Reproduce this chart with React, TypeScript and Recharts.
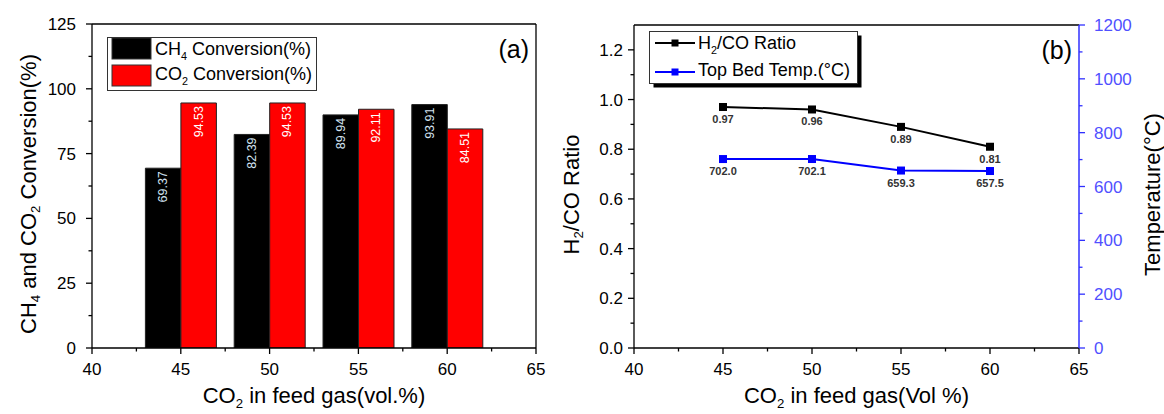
import React from 'react';
import { BarChart, Bar, XAxis, YAxis, LineChart, Line, LabelList, Legend, ReferenceLine } from 'recharts';

const FONT = '"Liberation Sans", Arial, Helvetica, sans-serif';

// ---------- data ----------
const co2Feed = [45, 50, 55, 60];
const ch4Conversion = [69.37, 82.39, 89.94, 93.91];
const co2Conversion = [94.53, 94.53, 92.11, 84.51];
const h2coRatio = [0.97, 0.96, 0.89, 0.81];
const topBedTemp = [702.0, 702.1, 659.3, 657.5];

const xTicks = [40, 42.5, 45, 47.5, 50, 52.5, 55, 57.5, 60, 62.5, 65];
const xMajorTicks = [40, 45, 50, 55, 60, 65];
const convTicks = [0, 12.5, 25, 37.5, 50, 62.5, 75, 87.5, 100, 112.5, 125];
const convMajorTicks = [0, 25, 50, 75, 100, 125];
const ratioTicks = [0, 0.1, 0.2, 0.3, 0.4, 0.5, 0.6, 0.7, 0.8, 0.9, 1.0, 1.1, 1.2];
const ratioMajorTicks = [0, 0.2, 0.4, 0.6, 0.8, 1.0, 1.2];
const tempTicks = [0, 100, 200, 300, 400, 500, 600, 700, 800, 900, 1000, 1100, 1200];
const tempMajorTicks = [0, 200, 400, 600, 800, 1000, 1200];

const barSeriesNames = ['CH_4 Conversion(%)', 'CO_2 Conversion(%)'];
const lineSeriesNames = ['H_2/CO Ratio', 'Top Bed Temp.(\u00B0C)'];
const leftYTitle = 'CH_4 and CO_2 Conversion(%)';
const leftXTitle = 'CO_2 in feed gas(vol.%)';
const rightYTitle = 'H_2/CO Ratio';
const rightY2Title = 'Temperature(\u00B0C)';
const rightXTitle = 'CO_2 in feed gas(Vol %)';

const barData = co2Feed.map((x, i) => ({ x, ch4: ch4Conversion[i], co2: co2Conversion[i] }));
const lineData = co2Feed.map((x, i) => ({ x, ratio: h2coRatio[i], temp: topBedTemp[i] }));

// ---------- helpers ----------
function rich(s: string, fs: number, subShift = 0.3) {
  const nodes: any[] = [];
  let buf = '';
  let shift = 0;
  let k = 0;
  const flush = () => {
    if (buf) {
      nodes.push(
        <tspan key={k++} dy={shift ? -shift : undefined} fontSize={fs}>
          {buf}
        </tspan>
      );
      shift = 0;
      buf = '';
    }
  };
  for (let i = 0; i < s.length; i++) {
    if (s[i] === '_' && i + 1 < s.length) {
      flush();
      const d = fs * subShift;
      nodes.push(
        <tspan key={k++} dy={d} fontSize={fs * 0.6}>
          {s[i + 1]}
        </tspan>
      );
      shift = d;
      i++;
    } else {
      buf += s[i];
    }
  }
  flush();
  return nodes;
}

const isMajor = (majors: number[], v: number) => majors.some((m) => Math.abs(m - v) < 1e-9);

const makeXTick = (majors: number[]) => (props: any) => {
  const { x, y, payload } = props;
  const v = payload.value;
  const major = isMajor(majors, v);
  return (
    <g>
      <line x1={x} x2={x} y1={y} y2={y + (major ? 6 : 3.5)} stroke="#000" strokeWidth={1.3} />
      {major && (
        <text x={x} y={y + 27} textAnchor="middle" fontSize={17} fontFamily={FONT} fill="#000">
          {v}
        </text>
      )}
    </g>
  );
};

const makeYTick =
  (majors: number[], side: 'left' | 'right', gap: number, color: string, textColor: string, fmt: (v: number) => string) =>
  (props: any) => {
    const { x, y, payload } = props;
    const v = payload.value;
    const major = isMajor(majors, v);
    const s = side === 'left' ? -1 : 1;
    return (
      <g>
        <line x1={x} x2={x + s * (major ? 6 : 3.5)} y1={y} y2={y} stroke={color} strokeWidth={1.3} />
        {major && (
          <text
            x={x + s * gap}
            y={y + 6}
            textAnchor={side === 'left' ? 'end' : 'start'}
            fontSize={17}
            fontFamily={FONT}
            fill={textColor}
          >
            {fmt(v)}
          </text>
        )}
      </g>
    );
  };

const barLabel = (color: string) => (props: any) => {
  const { x, y, width, value } = props;
  const cx = x + width / 2;
  const ty = y + 3;
  return (
    <text
      x={cx}
      y={ty}
      transform={`rotate(-90 ${cx} ${ty})`}
      textAnchor="end"
      dominantBaseline="central"
      fontSize={12.5}
      fontFamily={FONT}
      fill={color}
    >
      {Number(value).toFixed(2)}
    </text>
  );
};

const pointLabel = (digits: number) => (props: any) => {
  const { x, y, value } = props;
  return (
    <text x={x} y={y + 16} textAnchor="middle" fontSize={11} fontFamily={FONT} fill="#333" fontWeight="bold">
      {Number(value).toFixed(digits)}
    </text>
  );
};

const squareDot = (color: string) => (props: any) => {
  const { cx, cy, index } = props;
  return <rect key={`d${index}`} x={cx - 4} y={cy - 4} width={8} height={8} fill={color} />;
};

const BarLegend = (props: any) => {
  const payload = props.payload || [];
  return (
    <svg width={212} height={56} style={{ display: 'block' }}>
      <rect x={0.5} y={0.5} width={209} height={53} fill="#fff" stroke="#333" strokeWidth={1} />
      {payload.map((p: any, i: number) => (
        <g key={i}>
          <rect x={5} y={1 + i * 27} width={39} height={21} fill={p.color} stroke="#333" strokeWidth={1} />
          <text x={48} y={18 + i * 25} fontSize={18} fontFamily={FONT} fill="#000">
            {rich(String(p.value), 18)}
          </text>
        </g>
      ))}
    </svg>
  );
};

const LineLegend = (props: any) => {
  const payload = props.payload || [];
  return (
    <svg width={216} height={58} style={{ display: 'block' }}>
      <rect x={4.5} y={4.5} width={208} height={52} fill="#000" />
      <rect x={0.5} y={0.5} width={208} height={52} fill="#fff" stroke="#333" strokeWidth={1} />
      {payload.map((p: any, i: number) => (
        <g key={i}>
          <line x1={6} x2={46} y1={12 + i * 29} y2={12 + i * 29} stroke={p.color} strokeWidth={2} />
          <rect x={22.5} y={8.5 + i * 29} width={7} height={7} fill={p.color} />
          <text x={49} y={18 + i * 27} fontSize={18} fontFamily={FONT} fill="#000">
            {rich(String(p.value), 18)}
          </text>
        </g>
      ))}
    </svg>
  );
};

const vTitle = (title: string, dx: number, color: string) => (props: any) => {
  const vb = props.viewBox || {};
  const cx = vb.x + dx;
  const cy = vb.y + vb.height / 2 + 8;
  return (
    <text
      x={cx}
      y={cy}
      transform={`rotate(-90 ${cx} ${cy})`}
      textAnchor="middle"
      dominantBaseline="central"
      fontSize={22}
      fontFamily={FONT}
      fill={color}
    >
      {rich(title, 22)}
    </text>
  );
};

const hTitle = (title: string) => (props: any) => {
  const vb = props.viewBox || {};
  return (
    <text x={vb.x + vb.width / 2} y={vb.y + 55} textAnchor="middle" fontSize={22} fontFamily={FONT} fill="#000">
      {rich(title, 22, 0.22)}
    </text>
  );
};

const panelTag = (tag: string) => (props: any) => {
  const vb = props.viewBox || {};
  return (
    <text x={vb.x + vb.width - 7} y={vb.y + 34} textAnchor="end" fontSize={25} fontFamily={FONT} fill="#000">
      {tag}
    </text>
  );
};

export default function App() {
  return (
    <div style={{ position: 'absolute', left: 0, top: 0, width: 1164, height: 414, background: '#fff', overflow: 'hidden' }}>
      <div style={{ position: 'absolute', left: 0, top: 0 }}>
        <BarChart
          width={550}
          height={414}
          data={barData}
          margin={{ top: 24, right: 14, bottom: 26, left: 32 }}
          barGap={0}
          barCategoryGap={0}
          barSize={35.5}
        >
          <XAxis
            dataKey="x"
            type="number"
            domain={[40, 65]}
            allowDataOverflow
            ticks={xTicks}
            interval={0}
            tickSize={0}
            tickMargin={0}
            tickLine={false}
            tick={makeXTick(xMajorTicks)}
            axisLine={{ stroke: '#000', strokeWidth: 1.3 }}
            height={40}
            label={{ content: hTitle(leftXTitle) }}
          />
          <YAxis
            type="number"
            domain={[0, 125]}
            allowDataOverflow
            ticks={convTicks}
            interval={0}
            tickSize={0}
            tickMargin={0}
            tickLine={false}
            tick={makeYTick(convMajorTicks, 'left', 16, '#000', '#000', (v) => String(v))}
            axisLine={{ stroke: '#000', strokeWidth: 1.3 }}
            width={60}
            label={{ content: vTitle(leftYTitle, -4, '#000') }}
          />
          <ReferenceLine y={125} stroke="#000" strokeWidth={1.3} label={{ content: panelTag('(a)') }} />
          <ReferenceLine x={65} stroke="#000" strokeWidth={1.3} />
          <Bar dataKey="ch4" name={barSeriesNames[0]} fill="#000" stroke="#222" strokeWidth={1} isAnimationActive={false}>
            <LabelList dataKey="ch4" content={barLabel('#d3e3f2')} />
          </Bar>
          <Bar dataKey="co2" name={barSeriesNames[1]} fill="#ff0000" stroke="#222" strokeWidth={1} isAnimationActive={false}>
            <LabelList dataKey="co2" content={barLabel('#ffffff')} />
          </Bar>
          <Legend
            layout="vertical"
            align="center"
            verticalAlign="middle"
            content={BarLegend}
            wrapperStyle={{ left: 107, top: 37, width: 212, height: 56 }}
          />
        </BarChart>
      </div>
      <div style={{ position: 'absolute', left: 550, top: 0 }}>
        <LineChart width={614} height={414} data={lineData} margin={{ top: 25, right: 25, bottom: 26, left: 34 }}>
          <XAxis
            dataKey="x"
            type="number"
            domain={[40, 65]}
            allowDataOverflow
            ticks={xTicks}
            interval={0}
            tickSize={0}
            tickMargin={0}
            tickLine={false}
            tick={makeXTick(xMajorTicks)}
            axisLine={{ stroke: '#000', strokeWidth: 1.3 }}
            height={40}
            label={{ content: hTitle(rightXTitle) }}
          />
          <YAxis
            yAxisId="l"
            type="number"
            domain={[0, 1.3]}
            allowDataOverflow
            ticks={ratioTicks}
            interval={0}
            tickSize={0}
            tickMargin={0}
            tickLine={false}
            tick={makeYTick(ratioMajorTicks, 'left', 11, '#000', '#000', (v) => v.toFixed(1))}
            axisLine={{ stroke: '#000', strokeWidth: 1.3 }}
            width={50}
            label={{ content: vTitle(rightYTitle, -13, '#000') }}
          />
          <YAxis
            yAxisId="r"
            orientation="right"
            type="number"
            domain={[0, 1200]}
            allowDataOverflow
            ticks={tempTicks}
            interval={0}
            tickSize={0}
            tickMargin={0}
            tickLine={false}
            tick={makeYTick(tempMajorTicks, 'right', 15, '#3030ff', '#5050ff', (v) => String(v))}
            axisLine={{ stroke: '#3030ff', strokeWidth: 1.5 }}
            width={60}
            label={{ content: vTitle(rightY2Title, 73, '#000') }}
          />
          <ReferenceLine yAxisId="l" y={1.3} stroke="#000" strokeWidth={1.3} label={{ content: panelTag('(b)') }} />
          <Line
            yAxisId="l"
            dataKey="ratio"
            name={lineSeriesNames[0]}
            stroke="#000"
            strokeWidth={2}
            dot={squareDot('#000')}
            activeDot={false}
            isAnimationActive={false}
          >
            <LabelList dataKey="ratio" content={pointLabel(2)} />
          </Line>
          <Line
            yAxisId="r"
            dataKey="temp"
            name={lineSeriesNames[1]}
            stroke="#0000ff"
            strokeWidth={2}
            dot={squareDot('#0000ff')}
            activeDot={false}
            isAnimationActive={false}
          >
            <LabelList dataKey="temp" content={pointLabel(1)} />
          </Line>
          <Legend
            layout="vertical"
            align="center"
            verticalAlign="middle"
            content={LineLegend}
            wrapperStyle={{ left: 99, top: 31, width: 216, height: 58 }}
          />
        </LineChart>
      </div>
    </div>
  );
}
